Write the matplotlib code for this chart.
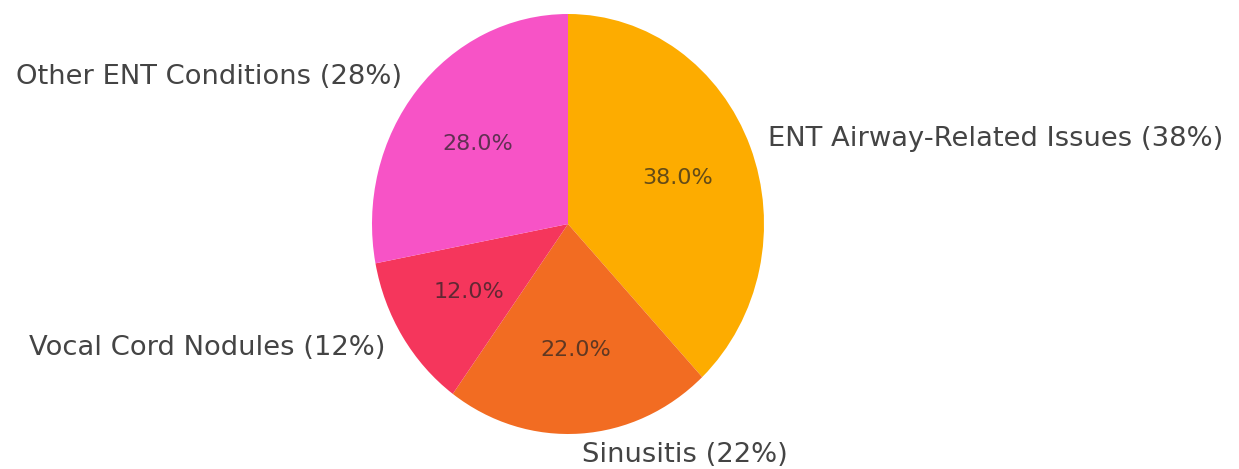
import matplotlib
matplotlib.use("Agg")
import matplotlib.pyplot as plt

labels = ["ENT Airway-Related Issues (38%)", "Sinusitis (22%)",
          "Vocal Cord Nodules (12%)", "Other ENT Conditions (28%)"]
values = [38, 22, 12, 28]
colors = ["#FDAC00", "#F26C22", "#F5365C", "#F753C6"]

W, H = 1239, 469
fig = plt.figure(figsize=(W / 100, H / 100), dpi=100)
cx, cy, rx, ry = 568, 469 - 224, 196, 210
ax = fig.add_axes([(cx - rx) / W, (cy - ry) / H, 2 * rx / W, 2 * ry / H])
wedges, texts, autotexts = ax.pie(values, labels=labels, colors=colors,
                                  startangle=90, counterclock=False,
                                  autopct="%1.1f%%", pctdistance=0.6,
                                  labeldistance=1.1,
                                  textprops={"fontsize": 19.7, "color": "#444444"})
for t in autotexts:
    t.set_color("#222222")
    t.set_alpha(0.7)
    t.set_fontsize(16)
ax.set_xlim(-1, 1)
ax.set_ylim(-1, 1)
ax.set_aspect("auto")
fig.savefig("out.png", dpi=100)
